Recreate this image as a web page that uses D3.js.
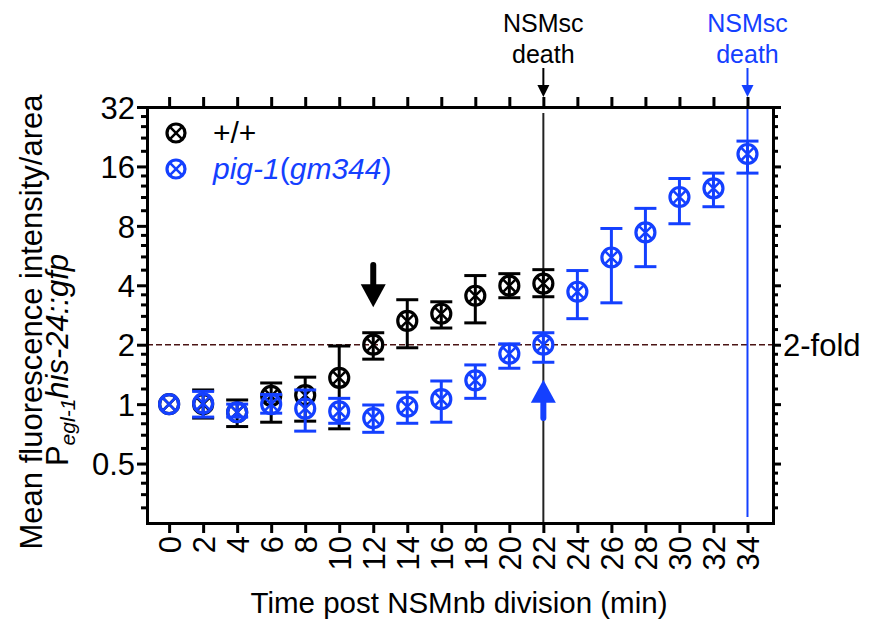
<!DOCTYPE html>
<html>
<head>
	<meta charset="utf-8" />
	<script src="https://cdnjs.cloudflare.com/ajax/libs/d3/7.8.5/d3.min.js"></script>
	<style>
		body { margin: 0; background: white; }
		text { font-family: 'Liberation Sans', Arial, sans-serif; }
		.axis path, .axis line { stroke: black; stroke-width: 3; }
	</style>
</head>
<body>
<script>
	// time points (min)
	var wtTimes = [0, 2, 4, 6, 8, 10, 12, 14, 16, 18, 20, 22];
	var wtMean = [1.0, 1.0, 0.91, 1.10, 1.11, 1.36, 2.0, 2.64, 2.87, 3.54, 3.98, 4.08];
	var wtHi = [1.0, 1.18, 1.05, 1.28, 1.37, 1.97, 2.30, 3.38, 3.30, 4.48, 4.58, 4.80];
	var wtLo = [1.0, 0.85, 0.77, 0.81, 0.82, 0.75, 1.69, 1.93, 2.43, 2.58, 3.46, 3.50];

	var pigTimes = [0, 2, 4, 6, 8, 10, 12, 14, 16, 18, 20, 22, 24, 26, 28, 30, 32, 34];
	var pigMean = [1.0, 1.01, 0.91, 1.0, 0.95, 0.92, 0.85, 0.97, 1.06, 1.32, 1.80, 2.0, 3.71, 5.53, 7.41, 11.2, 12.4, 18.5];
	var pigHi = [1.0, 1.16, 1.0, 1.12, 1.18, 1.07, 0.99, 1.15, 1.31, 1.58, 2.02, 2.30, 4.75, 7.76, 9.81, 13.9, 14.8, 21.5];
	var pigLo = [1.0, 0.86, 0.86, 0.90, 0.73, 0.80, 0.72, 0.80, 0.81, 1.07, 1.52, 1.63, 2.71, 3.26, 4.97, 8.2, 10.0, 14.8];

	var xTicks = d3.range(0, 35, 2);
	var yTicks = [0.5, 1, 2, 4, 8, 16, 32];
	var foldLevel = 2;

	const w = 871, h = 623;
	const black = "#000000", blue = "#1440ff";

	// log2 minor ticks at 1.2, 1.4, 1.6, 1.8 of each power
	var yMinor = [];
	[0.25, 0.5, 1, 2, 4, 8, 16].forEach(b => {
		[1.2, 1.4, 1.6, 1.8].forEach(f => yMinor.push(b * f));
	});

	const x = d3.scaleLinear().domain([-1.3, 35.5]).range([147, 773]);
	const y = d3.scaleLog().base(2).domain([0.25, 32]).range([523, 107]);

	const svg = d3.select("body").append("svg")
		.attr("width", w).attr("height", h);

	// 2-fold dashed line
	svg.append("line")
		.attr("x1", x.range()[0]).attr("x2", x.range()[1])
		.attr("y1", y(foldLevel)).attr("y2", y(foldLevel))
		.attr("stroke", "#4a1414").attr("stroke-width", 1.6)
		.attr("stroke-dasharray", "6,3");

	svg.append("text")
		.attr("x", 783).attr("y", y(foldLevel) + 11)
		.style("font-size", "31px")
		.text("2-fold");

	// death lines
	svg.append("line")
		.attr("x1", x(22)).attr("x2", x(22))
		.attr("y1", 113).attr("y2", y.range()[0])
		.attr("stroke", "#222").attr("stroke-width", 2);
	svg.append("line")
		.attr("x1", x(34)).attr("x2", x(34))
		.attr("y1", y.range()[1]).attr("y2", 517)
		.attr("stroke", blue).attr("stroke-width", 2);

	// axes
	function styleAxis(g) {
		g.attr("class", "axis");
		g.selectAll("path").attr("stroke-linecap", "square");
		g.selectAll("text").style("font-size", "31px").attr("fill", "black");
	}

	svg.append("g")
		.attr("transform", "translate(" + x.range()[0] + ",0)")
		.call(d3.axisLeft(y).tickValues(yTicks).tickFormat(d3.format("")).tickSize(10).tickSizeOuter(0).tickPadding(2))
		.call(styleAxis)
		.call(g => g.selectAll("text").attr("dy", "0.36em"));
	svg.append("g")
		.attr("transform", "translate(" + x.range()[0] + ",0)")
		.call(d3.axisLeft(y).tickValues(yMinor).tickFormat("").tickSize(6).tickSizeOuter(0))
		.call(styleAxis);

	svg.append("g")
		.attr("transform", "translate(" + x.range()[1] + ",0)")
		.call(d3.axisRight(y).tickValues(yTicks).tickFormat("").tickSize(8).tickSizeOuter(0))
		.call(styleAxis);
	svg.append("g")
		.attr("transform", "translate(" + x.range()[1] + ",0)")
		.call(d3.axisRight(y).tickValues(yMinor).tickFormat("").tickSize(5).tickSizeOuter(0))
		.call(styleAxis);

	svg.append("g")
		.attr("transform", "translate(0," + y.range()[1] + ")")
		.call(d3.axisTop(x).tickValues(xTicks).tickFormat("").tickSize(10).tickSizeOuter(0))
		.call(styleAxis);

	svg.append("g")
		.attr("transform", "translate(0," + y.range()[0] + ")")
		.call(d3.axisBottom(x).tickValues(xTicks).tickSize(10).tickSizeOuter(0))
		.call(styleAxis)
		.call(g => g.selectAll("text")
			.attr("transform", "rotate(-90)")
			.attr("x", -13).attr("y", 0).attr("dy", "0.36em")
			.style("text-anchor", "end"));

	// error bars + markers
	function drawSeries(times, mean, lo, hi, color) {
		const g = svg.append("g");
		times.forEach((t, i) => {
			const cx = x(t);
			if (hi[i] !== lo[i]) {
				g.append("line").attr("x1", cx).attr("x2", cx)
					.attr("y1", y(lo[i])).attr("y2", y(hi[i]))
					.attr("stroke", color).attr("stroke-width", 3);
				[lo[i], hi[i]].forEach(v => {
					g.append("line").attr("x1", cx - 11).attr("x2", cx + 11)
						.attr("y1", y(v)).attr("y2", y(v))
						.attr("stroke", color).attr("stroke-width", 3);
				});
			}
			marker(g, cx, y(mean[i]), color, 9.5);
		});
	}

	function marker(g, cx, cy, color, r) {
		g.append("circle").attr("cx", cx).attr("cy", cy).attr("r", r)
			.attr("fill", "none").attr("stroke", color).attr("stroke-width", 3.2);
		const d = r * 0.62;
		g.append("path")
			.attr("d", "M" + (cx - d) + "," + (cy - d) + "L" + (cx + d) + "," + (cy + d) +
				"M" + (cx - d) + "," + (cy + d) + "L" + (cx + d) + "," + (cy - d))
			.attr("stroke", color).attr("stroke-width", 2.5);
	}

	drawSeries(wtTimes, wtMean, wtLo, wtHi, black);
	drawSeries(pigTimes, pigMean, pigLo, pigHi, blue);

	// thick arrows in plot
	function bigArrow(cx, yTail, yTip, color) {
		const dir = yTip > yTail ? 1 : -1;
		const headLen = 23, headW = 12.5;
		svg.append("line").attr("x1", cx).attr("x2", cx)
			.attr("y1", yTail).attr("y2", yTip - dir * headLen + dir * 2)
			.attr("stroke", color).attr("stroke-width", 6).attr("stroke-linecap", "round");
		svg.append("path")
			.attr("d", "M" + cx + "," + yTip + "L" + (cx - headW) + "," + (yTip - dir * headLen) +
				"L" + (cx + headW) + "," + (yTip - dir * headLen) + "Z")
			.attr("fill", color);
	}
	bigArrow(x(12), y(5.07), y(3.1), black);
	bigArrow(x(22), y(0.85), y(1.33), blue);

	// death annotations above plot
	function smallArrow(cx, color) {
		svg.append("line").attr("x1", cx).attr("x2", cx)
			.attr("y1", 68).attr("y2", 88)
			.attr("stroke", color).attr("stroke-width", 2);
		svg.append("path")
			.attr("d", "M" + cx + ",97L" + (cx - 6) + ",85L" + (cx + 6) + ",85Z")
			.attr("fill", color);
	}
	[[22, black], [34, blue]].forEach(d => {
		const cx = x(d[0]);
		svg.append("text").attr("x", cx).attr("y", 32)
			.attr("text-anchor", "middle").attr("fill", d[1])
			.style("font-size", "25px").text("NSMsc");
		svg.append("text").attr("x", cx).attr("y", 63)
			.attr("text-anchor", "middle").attr("fill", d[1])
			.style("font-size", "25px").text("death");
		smallArrow(cx, d[1]);
	});

	// legend
	const leg = svg.append("g");
	marker(leg, 176, 133, black, 9);
	marker(leg, 176, 169, blue, 9);
	leg.append("text").attr("x", 213).attr("y", 143)
		.style("font-size", "30px").text("+/+");
	const t2 = leg.append("text").attr("x", 213).attr("y", 179)
		.style("font-size", "30px").attr("fill", blue);
	t2.append("tspan").style("font-style", "italic").text("pig-1");
	t2.append("tspan").text("(");
	t2.append("tspan").style("font-style", "italic").text("gm344");
	t2.append("tspan").text(")");

	// axis titles
	svg.append("text")
		.attr("x", 459).attr("y", 613)
		.attr("text-anchor", "middle")
		.style("font-size", "29.5px")
		.text("Time post NSMnb division (min)");

	svg.append("text")
		.attr("transform", "translate(42,322) rotate(-90)")
		.attr("text-anchor", "middle")
		.style("font-size", "31px")
		.text("Mean fluorescence intensity/area");

	const yt2 = svg.append("text")
		.attr("transform", "translate(68,360) rotate(-90)")
		.attr("text-anchor", "middle")
		.style("font-size", "31px");
	yt2.append("tspan").text("P");
	yt2.append("tspan").attr("dy", 7).style("font-size", "21px").style("font-style", "italic").text("egl-1");
	yt2.append("tspan").attr("dy", -7).style("font-style", "italic").text("his-24::gfp");
</script>
</body>
</html>
